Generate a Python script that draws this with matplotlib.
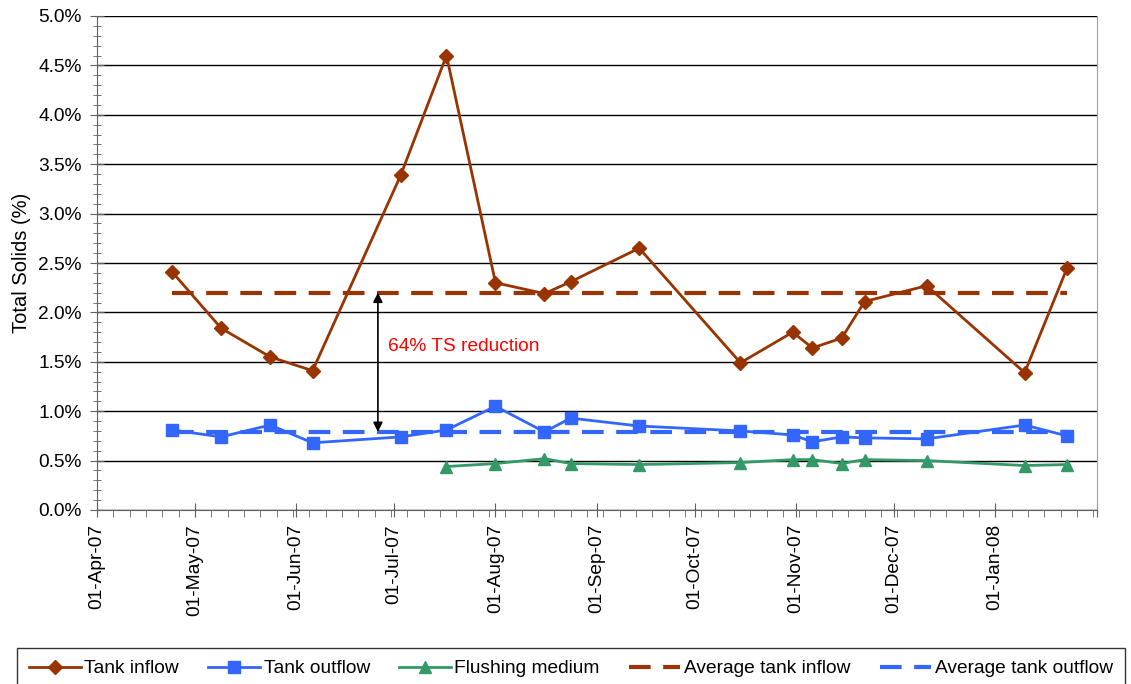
import matplotlib
matplotlib.use('Agg')
from matplotlib import pyplot as plt
import pandas as pd

plt.rcParams['font.family'] = ['Liberation Sans', 'DejaVu Sans']

# sample dates
dates = ['2007-04-24', '2007-05-09', '2007-05-24', '2007-06-06', '2007-07-03', '2007-07-17',
         '2007-08-01', '2007-08-16', '2007-08-24', '2007-09-14', '2007-10-15', '2007-10-31',
         '2007-11-06', '2007-11-15', '2007-11-22', '2007-12-11', '2008-01-10', '2008-01-23']
# total solids (%)
tank_inflow = [2.41, 1.84, 1.55, 1.41, 3.39, 4.60, 2.30, 2.19, 2.31, 2.65, 1.49, 1.80,
               1.64, 1.74, 2.11, 2.27, 1.39, 2.45]
tank_outflow = [0.81, 0.74, 0.86, 0.68, 0.74, 0.81, 1.05, 0.79, 0.93, 0.85, 0.80, 0.76,
                0.69, 0.74, 0.73, 0.72, 0.86, 0.75]
# flushing medium only measured from mid July
flush_dates = dates[5:]
flushing_medium = [0.44, 0.47, 0.52, 0.47, 0.46, 0.48, 0.51, 0.51, 0.47, 0.51, 0.50, 0.45, 0.46]

avg_inflow = 2.20
avg_outflow = 0.79

x = pd.to_datetime(dates)
xf = pd.to_datetime(flush_dates)
avg_x = [x[0], x[-1]]

fig = plt.figure(figsize=(11.31, 6.84), dpi=100)
ax = fig.add_axes([97 / 1131, 1 - 510 / 684, 999.5 / 1131, 494 / 684])

brown = '#993300'
blue = '#3366FF'
green = '#339966'

ax.plot(x, tank_inflow, color=brown, marker='D', markersize=7.5, lw=2, label='Tank inflow', zorder=4)
ax.plot(x, tank_outflow, color=blue, marker='s', markersize=8.5, lw=2, label='Tank outflow', zorder=4)
ax.plot(xf, flushing_medium, color=green, marker='^', markersize=8.5, lw=2, label='Flushing medium', zorder=4)
ax.plot(avg_x, [avg_inflow, avg_inflow], color=brown, lw=3, dashes=(5.2, 3), label='Average tank inflow', zorder=3)
ax.plot(avg_x, [avg_outflow, avg_outflow], color=blue, lw=3, dashes=(5.2, 3), label='Average tank outflow', zorder=3)

# reduction arrow
arrow_x = pd.Timestamp('2007-06-26')
ax.annotate('', xy=(arrow_x, avg_outflow), xytext=(arrow_x, avg_inflow),
            arrowprops=dict(arrowstyle='<|-|>', color='black', lw=1.2, mutation_scale=14,
                            shrinkA=0, shrinkB=0))
ax.text(pd.Timestamp('2007-06-29'), 1.65, '64% TS reduction', color='#FF0000', fontsize=13.8,
        va='center', ha='left')

ax.set_ylim(0, 5)
ax.set_yticks([i * 0.5 for i in range(11)])
ax.set_yticklabels(['%.1f%%' % (i * 0.5) for i in range(11)])
ax.set_yticks([i * 0.1 for i in range(51)], minor=True)
ax.set_ylabel('Total Solids (%)', fontsize=14.5, labelpad=5)
ax.grid(axis='y', which='major', color='black', lw=1)
ax.set_axisbelow(True)

ax.set_xlim(pd.Timestamp('2007-04-01'), pd.Timestamp('2008-02-01'))
major = pd.date_range('2007-04-01', '2008-02-01', freq='MS')
ax.set_xticks(major)
ax.set_xticklabels([d.strftime('%d-%b-%y') for d in major[:-1]] + [''], rotation=90)
ax.set_xticks(pd.date_range('2007-04-01', '2008-02-01', freq='5D'), minor=True)

ax.tick_params(axis='both', which='major', labelsize=13.8, color='#606060')
ax.tick_params(axis='x', which='major', direction='inout', length=10, pad=5)
ax.tick_params(axis='x', which='minor', direction='out', length=5, color='#606060')
ax.tick_params(axis='y', which='major', direction='inout', length=10, pad=6)
ax.tick_params(axis='y', which='minor', direction='inout', length=6, color='#606060')

for side in ['left', 'bottom']:
    ax.spines[side].set_color('#606060')
ax.spines['right'].set_color('#a0a0a0')
ax.spines['top'].set_visible(False)

leg = fig.legend(loc='upper left', bbox_to_anchor=(17 / 1131, 1 - 648 / 684, 1108 / 1131, 0.0),
                 mode='expand', ncol=5, fontsize=13.8, frameon=True, fancybox=False,
                 handlelength=2.7, handletextpad=0.2, columnspacing=1.0, borderpad=0.62,
                 borderaxespad=0)
leg.get_frame().set_edgecolor('black')
leg.get_frame().set_linewidth(1)

fig.savefig('out.png', dpi=100)
